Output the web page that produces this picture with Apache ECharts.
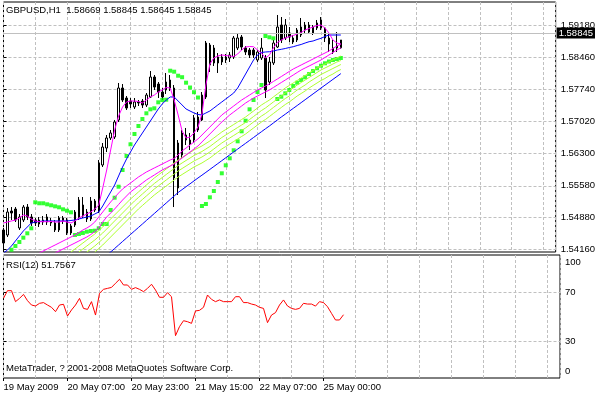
<!DOCTYPE html>
<html><head><meta charset="utf-8">
<script src="https://cdn.jsdelivr.net/npm/echarts@6/dist/echarts.min.js"></script>
<style>html,body{margin:0;padding:0;background:#fff}#c{width:598px;height:395px}</style>
</head><body><div id="c"></div>
<script>
const timeLabels = ['19 May 2009','20 May 07:00','20 May 23:00','21 May 15:00','22 May 07:00','25 May 00:00'];
const timeLabelBars = [0,16,32,48,64,80];
const priceTicks = [1.5416,1.5488,1.5558,1.5630,1.5702,1.5774,1.5846,1.5918];
const rsiLabelTicks = [0,30,70,100];
const rsiGridTicks = [30,70];
const lastPrice = 1.58845;

const open = [1.54592,1.54480,1.55017,1.55061,1.54637,1.54816,1.55106,1.54883,1.54816,1.54726,
1.54771,1.54883,1.54749,1.54749,1.54592,1.54861,1.54816,1.54525,1.54704,1.54861,
1.55151,1.54994,1.54838,1.55241,1.55017,1.56047,1.56427,1.56651,1.56673,1.57054,
1.57770,1.57546,1.57479,1.57345,1.57457,1.57479,1.57389,1.57568,1.58016,1.57859,
1.57680,1.57725,1.57770,1.57770,1.55532,1.56270,1.56718,1.56606,1.56606,1.56830,
1.57054,1.57568,1.58732,1.58665,1.58464,1.58464,1.58397,1.58441,1.58464,1.58665,
1.58911,1.58665,1.58620,1.58620,1.58397,1.58441,1.58441,1.57904,1.58330,1.58688,
1.59180,1.58889,1.59001,1.58889,1.58844,1.59135,1.59068,1.59180,1.59001,1.59113,
1.59292,1.59113,1.58889,1.58576,1.58710,1.58669];
const close = [1.54301,1.54994,1.54972,1.54816,1.54883,1.55106,1.54883,1.54749,1.54749,1.54816,
1.54816,1.54771,1.54794,1.54592,1.54861,1.54794,1.54525,1.54682,1.54994,1.55263,
1.54905,1.54838,1.55241,1.55039,1.56091,1.56449,1.56651,1.56763,1.57009,1.57770,
1.57501,1.57322,1.57412,1.57457,1.57434,1.57389,1.57613,1.58016,1.57792,1.57680,
1.57568,1.57904,1.57949,1.55756,1.56539,1.56763,1.56606,1.56517,1.57099,1.57121,
1.57613,1.58777,1.58285,1.58330,1.58330,1.58352,1.58464,1.58509,1.58889,1.58889,
1.58688,1.58576,1.58509,1.58509,1.58576,1.58665,1.57725,1.58352,1.58777,1.59135,
1.58844,1.59180,1.58911,1.58799,1.59068,1.58956,1.59180,1.59023,1.59135,1.59225,
1.59113,1.58889,1.58755,1.58665,1.58665,1.58845];
const high = [1.54637,1.55084,1.55106,1.55106,1.54950,1.55151,1.55173,1.54950,1.54861,1.54883,
1.54905,1.54950,1.54861,1.54816,1.54905,1.54905,1.54861,1.54726,1.55039,1.55330,
1.55330,1.55061,1.55330,1.55285,1.56158,1.56539,1.56718,1.56830,1.57054,1.57882,
1.57859,1.57591,1.57546,1.57546,1.57501,1.57524,1.57658,1.58150,1.58061,1.57904,
1.57770,1.58106,1.58061,1.57837,1.56606,1.56830,1.56875,1.56763,1.57166,1.57233,
1.57680,1.58822,1.58777,1.58732,1.58553,1.58531,1.58531,1.58576,1.58934,1.58979,
1.58956,1.58710,1.58665,1.58665,1.58620,1.58889,1.58509,1.58464,1.58844,1.59404,
1.59359,1.59314,1.59135,1.58956,1.59113,1.59337,1.59247,1.59247,1.59180,1.59292,
1.59359,1.59135,1.59001,1.58844,1.59023,1.58845];
const low = [1.54122,1.54435,1.54816,1.54771,1.54592,1.54771,1.54816,1.54682,1.54682,1.54659,
1.54704,1.54704,1.54682,1.54547,1.54547,1.54726,1.54480,1.54480,1.54659,1.54816,
1.54861,1.54771,1.54794,1.54994,1.54972,1.56002,1.56337,1.56606,1.56629,1.57009,
1.57457,1.57278,1.57322,1.57300,1.57367,1.57322,1.57345,1.57546,1.57725,1.57546,
1.57501,1.57636,1.57703,1.55106,1.55375,1.56203,1.56494,1.56382,1.56539,1.56785,
1.57031,1.57524,1.58128,1.58262,1.58106,1.58285,1.58330,1.58352,1.58419,1.58620,
1.58620,1.58509,1.58441,1.58441,1.58352,1.58397,1.57546,1.57837,1.58285,1.58665,
1.58777,1.58844,1.58799,1.58755,1.58799,1.58911,1.59001,1.58979,1.58956,1.59068,
1.59068,1.58799,1.58576,1.58531,1.58576,1.58645];

const maBlueFast = [1.54077,1.54144,1.54234,1.54346,1.54458,1.54570,1.54659,1.54749,1.54771,1.54782,
1.54794,1.54794,1.54794,1.54794,1.54794,1.54794,1.54794,1.54805,1.54816,1.54838,
1.54861,1.54883,1.54905,1.54950,1.54995,1.55129,1.55286,1.55443,1.55599,1.55801,
1.56002,1.56181,1.56338,1.56494,1.56629,1.56763,1.56897,1.57031,1.57166,1.57300,
1.57412,1.57501,1.57569,1.57569,1.57479,1.57390,1.57300,1.57255,1.57211,1.57177,
1.57166,1.57211,1.57255,1.57322,1.57390,1.57457,1.57524,1.57591,1.57658,1.57770,
1.57927,1.58083,1.58240,1.58397,1.58509,1.58565,1.58576,1.58582,1.58598,1.58620,
1.58636,1.58654,1.58676,1.58694,1.58721,1.58744,1.58777,1.58806,1.58822,1.58855,
1.58882,1.58923,1.58956,1.58956,1.58956,1.58956];
const maBlueSlow = [null,null,null,null,null,null,null,null,null,null,null,null,
null,null,null,null,null,null,null,null,null,null,null,null,
1.53854,1.53943,1.54021,1.54100,1.54178,1.54256,1.54335,1.54413,1.54491,1.54570,
1.54648,1.54726,1.54805,1.54883,1.54961,1.55040,1.55118,1.55196,1.55275,1.55353,
1.55431,1.55496,1.55561,1.55626,1.55691,1.55756,1.55819,1.55883,1.55948,1.56013,
1.56078,1.56143,1.56208,1.56273,1.56338,1.56403,1.56468,1.56532,1.56597,1.56662,
1.56727,1.56792,1.56857,1.56920,1.56987,1.57054,1.57121,1.57184,1.57249,1.57314,
1.57378,1.57443,1.57508,1.57573,1.57638,1.57703,1.57770,1.57833,1.57898,1.57963,
1.58027,1.58092];
const maPinkFast = [1.54749,1.54771,1.54794,1.54816,1.54861,1.54928,1.54905,1.54838,1.54794,1.54778,
1.54778,1.54778,1.54782,1.54771,1.54771,1.54794,1.54771,1.54749,1.54794,1.54861,
1.54905,1.54950,1.54995,1.55062,1.55152,1.55532,1.55935,1.56383,1.56830,1.57143,
1.57345,1.57457,1.57479,1.57479,1.57468,1.57434,1.57501,1.57569,1.57613,1.57681,
1.57725,1.57781,1.57770,1.57501,1.57166,1.56808,1.56651,1.56673,1.56763,1.56897,
1.57188,1.57837,1.58307,1.58441,1.58486,1.58509,1.58497,1.58486,1.58475,1.58531,
1.58621,1.58688,1.58699,1.58694,1.58621,1.58553,1.58441,1.58509,1.58665,1.58788,
1.58844,1.58889,1.58918,1.58945,1.58979,1.59012,1.59068,1.59102,1.59135,1.59169,
1.59180,1.59113,1.59001,1.58844,1.58777,1.58755];
const maPinkMid = [null,null,null,null,null,null,null,null,null,
1.54077,1.54122,1.54167,1.54212,1.54256,1.54301,1.54346,1.54391,1.54435,1.54480,
1.54536,1.54592,1.54637,1.54693,1.54771,1.54883,1.54995,1.55107,1.55219,1.55319,
1.55420,1.55510,1.55577,1.55644,1.55711,1.55778,1.55834,1.55890,1.55935,1.55980,
1.56024,1.56069,1.56114,1.56159,1.56192,1.56271,1.56360,1.56427,1.56494,1.56562,
1.56629,1.56718,1.56808,1.56897,1.56987,1.57076,1.57166,1.57233,1.57300,1.57367,
1.57434,1.57501,1.57557,1.57613,1.57669,1.57725,1.57770,1.57815,1.57860,1.57916,
1.57971,1.58027,1.58083,1.58140,1.58195,1.58240,1.58285,1.58330,1.58374,1.58419,
1.58464,1.58509,1.58553,1.58598,1.58654,1.58710,1.58755];
const maPinkSlow = [null,null,null,null,null,null,null,null,null,null,null,null,null,
1.54077,1.54122,1.54167,1.54212,1.54256,1.54301,1.54346,1.54391,1.54435,1.54491,
1.54558,1.54637,1.54771,1.54883,1.54972,1.55062,1.55163,1.55263,1.55353,1.55443,
1.55510,1.55577,1.55644,1.55711,1.55767,1.55823,1.55879,1.55935,1.55980,1.56024,
1.56069,1.56136,1.56203,1.56271,1.56338,1.56405,1.56472,1.56562,1.56651,1.56741,
1.56830,1.56920,1.57009,1.57088,1.57166,1.57233,1.57300,1.57367,1.57434,1.57490,
1.57546,1.57591,1.57636,1.57681,1.57725,1.57781,1.57837,1.57893,1.57949,1.58005,
1.58061,1.58117,1.58173,1.58218,1.58262,1.58307,1.58352,1.58397,1.58453,1.58509,
1.58565,1.58621,1.58665];
const maLime1 = [null,null,null,null,null,null,null,null,null,null,null,null,null,null,null,null,null,
1.54100,1.54167,1.54234,1.54301,1.54368,1.54435,1.54502,1.54581,1.54659,1.54749,
1.54838,1.54928,1.55017,1.55107,1.55196,1.55286,1.55364,1.55443,1.55521,1.55599,
1.55677,1.55756,1.55823,1.55890,1.55957,1.56024,1.56092,1.56159,1.56215,1.56271,
1.56327,1.56383,1.56427,1.56472,1.56528,1.56584,1.56651,1.56718,1.56785,1.56841,
1.56897,1.56953,1.57009,1.57065,1.57121,1.57188,1.57255,1.57322,1.57390,1.57446,
1.57501,1.57569,1.57636,1.57703,1.57770,1.57826,1.57882,1.57938,1.57994,1.58050,
1.58106,1.58162,1.58218,1.58262,1.58307,1.58352,1.58397,1.58441,1.58486];
const maLime2 = [null,null,null,null,null,null,null,null,null,null,null,null,null,null,null,null,null,null,null,
1.54100,1.54167,1.54234,1.54301,1.54368,1.54447,1.54525,1.54614,1.54704,1.54794,
1.54883,1.54972,1.55062,1.55152,1.55241,1.55319,1.55398,1.55476,1.55554,1.55633,
1.55700,1.55767,1.55834,1.55901,1.55968,1.56035,1.56092,1.56148,1.56203,1.56259,
1.56304,1.56349,1.56405,1.56461,1.56528,1.56595,1.56662,1.56718,1.56774,1.56830,
1.56886,1.56942,1.56998,1.57065,1.57132,1.57199,1.57266,1.57322,1.57390,1.57457,
1.57524,1.57591,1.57658,1.57714,1.57770,1.57837,1.57893,1.57949,1.58005,1.58061,
1.58117,1.58173,1.58218,1.58262,1.58307,1.58352,1.58385];
const maLime3 = [null,null,null,null,null,null,null,null,null,null,null,null,null,null,null,null,null,null,null,null,null,
1.54100,1.54167,1.54234,1.54312,1.54391,1.54480,1.54570,1.54659,1.54749,1.54838,
1.54928,1.55017,1.55107,1.55196,1.55275,1.55353,1.55431,1.55510,1.55577,1.55644,
1.55711,1.55778,1.55845,1.55912,1.55968,1.56024,1.56080,1.56136,1.56181,1.56226,
1.56282,1.56338,1.56405,1.56472,1.56539,1.56595,1.56651,1.56707,1.56763,1.56819,
1.56875,1.56942,1.57009,1.57076,1.57143,1.57199,1.57266,1.57334,1.57401,1.57468,
1.57535,1.57591,1.57658,1.57725,1.57781,1.57837,1.57904,1.57960,1.58016,1.58072,
1.58117,1.58162,1.58207,1.58251,1.58296];
const maLime4 = [null,null,null,null,null,null,null,null,null,null,null,null,null,null,null,null,null,null,null,null,null,null,null,
1.54100,1.54178,1.54256,1.54346,1.54435,1.54525,1.54614,1.54704,1.54794,1.54883,
1.54972,1.55062,1.55140,1.55219,1.55297,1.55375,1.55443,1.55510,1.55577,1.55644,
1.55711,1.55778,1.55834,1.55890,1.55946,1.56002,1.56047,1.56092,1.56148,1.56203,
1.56271,1.56338,1.56405,1.56461,1.56517,1.56573,1.56629,1.56685,1.56741,1.56808,
1.56875,1.56942,1.57009,1.57065,1.57132,1.57199,1.57266,1.57334,1.57401,1.57457,
1.57524,1.57591,1.57647,1.57703,1.57770,1.57826,1.57882,1.57938,1.57983,1.58039,
1.58083,1.58140,1.58184];
const sar = [null,null,
1.54151,1.54234,1.54323,1.54420,1.54518,1.54630,
1.55212,1.55190,1.55190,1.55167,1.55145,1.55122,1.55100,1.55055,1.55024,1.54988,
1.54480,1.54502,1.54525,1.54554,1.54570,1.54576,1.54630,1.54726,1.54726,1.55040,
1.55315,1.55561,1.55935,1.56248,1.56510,1.56741,1.56920,1.57076,1.57204,1.57293,
1.57316,1.57450,1.57501,1.57508,
1.58157,1.58135,1.58045,1.58012,1.57889,1.57781,1.57676,1.57557,
1.55129,1.55174,1.55324,1.55465,1.55666,1.55861,1.56040,1.56197,1.56376,1.56577,
1.56801,1.57038,1.57293,1.57501,1.57681,1.57837,
1.58934,1.58905,1.58882,
1.57524,1.57575,1.57651,1.57725,1.57815,1.57889,1.57949,1.58010,1.58083,1.58151,
1.58211,1.58269,1.58323,1.58363,1.58397,1.58419,1.58441];
const rsi = [65.4,71.7,71.7,62.6,65.3,68.6,63.4,59.8,59.0,61.2,
61.8,59.8,57.9,54.3,59.8,60.4,50.7,55.7,59.8,65.3,
57.0,56.2,62.6,51.5,69.5,72.8,73.6,74.4,77.8,81.1,
76.4,76.4,72.8,74.2,72.8,70.9,73.6,77.0,72.2,66.2,
66.2,70.0,66.7,34.4,41.9,46.8,46.0,44.6,54.9,55.4,
57.9,68.1,64.5,62.6,64.0,62.6,62.6,62.6,66.7,66.7,
61.8,61.8,60.6,59.8,57.9,57.0,45.2,51.5,53.5,59.8,
64.0,59.0,57.0,56.2,57.0,61.2,60.6,60.6,58.9,62.6,
61.8,58.4,52.9,47.4,47.4,51.7567];

const FONT = '"Liberation Sans", Arial, sans-serif';
const FS = 9.5;
const gridDash = {color:'#C0C0C0', type:[3,2], width:1};
const xy = arr => arr.map((v, i) => [i, v]);
const candleData = open.map((o, i) => [i, o, close[i], low[i], high[i]]);
const lineS = (name, arr, color) => ({
  name, type:'line', xAxisIndex:0, yAxisIndex:0, data: xy(arr), symbol:'none', showSymbol:false,
  lineStyle:{color, width:1}, itemStyle:{color}, silent:true, animation:false
});
const XMAX = 139.125;

const chart = echarts.init(document.getElementById('c'), null, {renderer:'canvas', width:598, height:395});
chart.setOption({
  backgroundColor:'#ffffff',
  animation:false,
  textStyle:{fontFamily:FONT},
  title:[
    {text:'GBPUSD,H1  1.58669 1.58845 1.58645 1.58845', left:6, top:5, padding:0,
     textStyle:{fontSize:FS, fontWeight:'normal', color:'#000', fontFamily:FONT}},
    {text:'RSI(12) 51.7567', left:6, top:260, padding:0,
     textStyle:{fontSize:FS, fontWeight:'normal', color:'#000', fontFamily:FONT}},
    {text:'MetaTrader, ? 2001-2008 MetaQuotes Software Corp.', left:6, top:363, padding:0,
     textStyle:{fontSize:FS, fontWeight:'normal', color:'#000', fontFamily:FONT}}
  ],
  grid:[
    {left:3.5, right:38, top:2, height:250, show:true, borderColor:'#000', borderWidth:1},
    {left:3.5, right:38, top:255, height:123, show:true, borderColor:'#000', borderWidth:1}
  ],
  xAxis:[
    {gridIndex:0, type:'value', min:0, max:XMAX, interval:8,
     axisLine:{show:false}, axisTick:{show:false}, axisLabel:{show:false},
     splitLine:{show:true, lineStyle:gridDash}},
    {gridIndex:1, type:'value', min:0, max:XMAX, interval:8, position:'top',
     axisLine:{show:false}, axisTick:{show:false}, axisLabel:{show:false},
     splitLine:{show:true, lineStyle:gridDash}},
    {gridIndex:1, type:'value', min:0, max:XMAX, position:'bottom',
     axisLine:{show:false}, splitLine:{show:false},
     axisTick:{show:true, customValues:timeLabelBars, length:3, lineStyle:{color:'#000'}},
     axisLabel:{show:true, customValues:timeLabelBars, align:'left', margin:4, color:'#000',
       fontSize:FS, fontFamily:FONT,
       formatter: v => { const k = timeLabelBars.indexOf(v); return k >= 0 ? timeLabels[k] : ''; }}}
  ],
  yAxis:[
    {gridIndex:0, type:'value', position:'right', min:1.540996, max:1.596948, scale:true,
     axisLine:{show:false},
     axisTick:{show:true, customValues:priceTicks, length:3, lineStyle:{color:'#000'}},
     axisLabel:{show:true, customValues:priceTicks, margin:5, color:'#000', fontSize:FS, fontFamily:FONT,
       formatter: v => v.toFixed(5)},
     splitLine:{show:true, lineStyle:gridDash}},
    {gridIndex:1, type:'value', position:'right', min:-0.66, max:101.24,
     axisLine:{show:false},
     axisTick:{show:true, customValues:rsiGridTicks, length:3, lineStyle:{color:'#000'}},
     axisLabel:{show:true, customValues:rsiLabelTicks, margin:5, color:'#000', fontSize:FS, fontFamily:FONT,
       formatter: v => v === 100 ? '{t|100}' : (v === 0 ? '{b|0}' : String(v)),
       rich:{t:{padding:[11,0,0,0], fontSize:FS, fontFamily:FONT, color:'#000'},
             b:{padding:[0,0,11,0], fontSize:FS, fontFamily:FONT, color:'#000'}}},
     splitLine:{show:true, lineStyle:gridDash}}
  ],
  series:[
    {name:'GBPUSD', type:'candlestick', xAxisIndex:0, yAxisIndex:0, data:candleData,
     encode:{x:0, y:[1,2,3,4]}, barWidth:2, silent:true, animation:false,
     itemStyle:{color:'#ffffff', color0:'#000000', borderColor:'#000000', borderColor0:'#000000', borderWidth:1},
     markLine:{silent:true, symbol:['none','none'], animation:false,
       lineStyle:{color:'#C0C0C0', type:'solid', width:1},
       label:{show:true, position:'end', distance:1, formatter: () => lastPrice.toFixed(5),
         backgroundColor:'#000', color:'#fff', padding:[1,2,0,2], fontSize:FS, fontFamily:FONT},
       data:[{yAxis:lastPrice}]}},
    lineS('MA slow', maBlueSlow, '#0000FF'),
    lineS('Lime 4', maLime4, '#ADFF2F'),
    lineS('Lime 3', maLime3, '#ADFF2F'),
    lineS('Lime 2', maLime2, '#ADFF2F'),
    lineS('Lime 1', maLime1, '#ADFF2F'),
    lineS('Pink slow', maPinkSlow, '#FF00FF'),
    lineS('Pink mid', maPinkMid, '#FF00FF'),
    lineS('MA fast', maBlueFast, '#0000FF'),
    lineS('Pink fast', maPinkFast, '#FF00FF'),
    {name:'SAR', type:'scatter', xAxisIndex:0, yAxisIndex:0, data:xy(sar), symbol:'rect', symbolSize:4,
     itemStyle:{color:'#00FF00'}, silent:true, animation:false},
    {name:'RSI', type:'line', xAxisIndex:1, yAxisIndex:1, data:xy(rsi), symbol:'none', showSymbol:false,
     lineStyle:{color:'#FF0000', width:1}, silent:true, animation:false}
  ]
});
</script></body></html>
